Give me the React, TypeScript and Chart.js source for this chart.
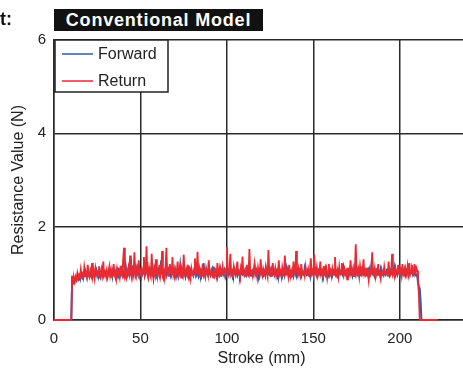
import React, { useEffect, useRef } from "react";
import { Chart, registerables } from "chart.js";

Chart.register(...registerables);

// ---- data ----
const titleText = "Conventional Model";
const cutText = "t:";
const xTitle = "Stroke (mm)";
const yTitle = "Resistance Value (N)";
const xTicks = [0, 50, 100, 150, 200];
const yTicks = [0, 2, 4, 6];
const seriesLabels = ["Forward", "Return"];

const idleStartStroke = [0, 10];
const idleEndStroke = [212.5, 222];
const sampleStart = 10.5;
const sampleStep = 0.5;

const forwardValues = [
  0.85,0.80,0.88,0.84,0.90,0.86,0.92,0.88,0.95,0.90,0.93,0.98,0.91,0.96,1.02,0.94,0.99,0.92,1.05,0.97,
  0.93,1.00,0.95,1.08,0.96,1.02,0.94,0.99,1.06,0.95,1.01,0.97,1.04,0.93,1.00,1.07,0.96,1.02,0.95,0.99,
  1.03,0.94,1.00,1.09,0.97,1.02,0.95,1.05,0.98,1.01,0.93,1.06,0.99,1.12,0.96,1.03,0.97,1.08,1.00,0.95,
  1.04,0.98,1.15,1.01,0.96,1.07,0.99,1.30,1.02,0.94,1.08,1.00,1.05,0.97,1.11,1.03,0.98,1.20,1.04,0.99,
  1.06,0.97,1.02,1.10,0.96,1.04,1.25,1.00,0.93,1.07,1.01,0.98,1.13,1.03,0.95,1.09,1.00,1.05,0.97,1.02,
  1.08,0.96,1.03,1.28,0.99,1.05,0.92,1.01,1.10,0.97,1.04,0.99,1.14,1.02,0.95,1.06,1.00,1.03,0.96,1.09,
  1.01,0.97,1.05,0.94,1.02,1.18,0.99,1.04,0.96,1.07,1.00,0.93,1.03,0.98,1.10,1.01,0.96,1.05,0.99,1.02,
  0.97,1.06,1.00,1.12,0.98,1.03,0.95,1.08,1.01,0.96,1.04,0.99,1.22,1.02,0.94,1.05,1.00,0.97,1.07,1.01,
  0.96,1.03,1.09,0.98,1.02,0.95,1.05,1.00,0.92,1.04,0.98,1.11,1.01,0.97,1.03,0.99,1.06,0.95,1.02,1.00,
  1.04,0.97,1.01,1.07,0.98,1.03,0.95,1.00,1.08,0.99,1.02,0.96,1.05,1.00,0.94,1.03,1.10,0.98,1.01,0.97,
  1.05,1.00,0.96,1.02,1.08,0.98,1.03,0.95,1.01,1.06,0.99,1.15,1.02,0.97,1.04,1.00,0.95,1.03,0.99,1.07,
  1.00,0.96,1.04,0.98,1.10,1.01,0.97,1.03,0.99,1.06,0.95,1.02,1.00,1.08,0.97,1.03,0.99,1.05,0.96,1.01,
  1.04,0.98,1.02,0.95,1.07,1.00,0.97,1.03,1.12,0.99,1.01,0.96,1.05,1.00,0.98,1.04,0.94,1.02,1.09,1.00,
  0.97,1.03,0.99,1.06,1.01,0.95,1.04,1.00,0.97,1.11,1.02,0.98,1.05,0.99,1.03,0.96,1.08,1.00,1.02,0.97,
  1.04,0.99,1.13,1.01,0.96,1.05,1.00,0.98,1.07,1.02,0.95,1.03,0.99,1.10,1.01,0.97,1.04,1.00,1.06,0.98,
  1.02,0.96,1.05,1.00,1.09,0.98,1.03,0.95,1.01,1.07,0.99,1.04,1.00,0.96,1.12,1.02,0.98,1.05,1.00,0.97,
  1.03,1.08,0.99,1.02,0.95,1.06,1.00,1.04,0.97,1.10,1.01,0.98,1.03,0.96,1.05,1.00,1.08,0.99,1.02,0.97,
  1.04,1.00,0.96,1.07,1.02,0.98,1.15,1.01,0.97,1.04,1.00,0.95,1.06,1.02,0.99,1.03,0.96,1.09,1.01,0.98,
  1.05,1.00,0.97,1.03,1.10,0.99,1.02,0.96,1.06,1.01,0.98,1.04,1.00,1.12,0.97,1.03,0.99,1.07,1.01,0.96,
  1.04,1.00,1.08,0.98,1.03,1.11,0.99,1.05,1.01,0.97,1.09,1.03,1.00,1.06,0.98,1.04,1.01,0.96,0.95,0.98,
  0.80,0.72,0.68,0.40,0.00
];

const returnValues = [
  0.95,0.78,0.90,0.82,0.93,0.87,1.00,0.89,0.96,0.92,1.08,0.94,0.99,0.91,1.12,0.96,1.03,0.93,1.18,0.98,
  0.92,1.05,0.97,1.22,0.95,1.04,0.90,1.10,0.98,1.02,0.94,1.15,0.99,0.93,1.08,0.97,1.25,0.96,1.03,0.95,
  1.06,0.92,1.01,1.14,0.96,1.07,0.91,1.03,1.20,0.97,1.02,0.89,1.09,0.98,1.04,0.93,1.16,1.00,0.95,1.30,
  1.55,0.98,1.07,0.92,1.02,1.12,0.95,1.38,1.00,0.90,1.06,0.97,1.45,1.03,0.94,1.10,0.99,1.28,0.96,1.04,
  0.93,1.08,1.00,1.35,0.97,1.05,1.58,0.99,0.91,1.12,1.03,0.95,1.42,1.01,0.88,1.09,0.98,1.30,0.96,1.06,
  1.00,1.18,0.94,1.05,1.48,0.97,1.03,0.90,1.10,1.55,0.99,1.06,0.93,1.20,1.02,0.96,1.35,1.00,0.92,1.08,
  0.97,1.04,1.25,0.95,1.02,1.12,0.91,1.06,0.98,1.40,1.03,0.94,1.08,0.99,1.17,0.96,1.04,0.90,1.10,1.00,
  0.95,1.07,1.32,0.98,1.03,1.46,0.96,1.09,0.92,1.05,1.00,1.20,0.97,1.04,0.93,1.11,1.02,0.95,1.28,1.01,
  0.96,1.06,1.00,0.91,1.14,0.98,1.04,0.94,1.22,1.01,0.97,1.08,0.93,1.03,1.15,0.99,1.05,0.95,1.10,1.56,
  1.02,0.96,1.09,1.42,0.98,1.04,0.92,1.13,1.00,0.95,1.07,1.25,0.99,1.03,0.94,1.10,0.97,1.36,1.01,0.96,
  1.05,0.93,1.18,1.00,0.96,1.52,1.02,0.98,1.08,0.94,1.04,1.20,0.99,1.06,0.92,1.12,1.01,0.97,1.30,1.03,
  0.95,1.09,1.00,0.96,1.14,1.02,0.93,1.50,1.04,0.98,1.07,0.94,1.22,1.01,0.97,1.10,0.95,1.05,1.00,1.28,
  0.98,1.04,0.93,1.12,1.00,0.96,1.38,1.03,0.99,1.07,0.94,1.18,1.01,0.97,1.05,0.92,1.25,1.02,0.98,1.48,
  1.04,0.96,1.10,0.99,0.93,1.20,1.02,0.97,1.06,0.95,1.14,1.00,0.98,1.08,0.94,1.03,1.32,0.99,1.05,0.96,
  1.40,1.02,0.97,1.12,0.95,1.05,1.00,1.25,0.98,1.04,0.92,1.16,1.01,0.96,1.08,0.90,1.03,1.20,0.98,1.05,
  0.94,1.10,1.00,0.97,1.35,1.02,0.96,1.06,0.93,1.14,1.00,0.98,1.22,1.03,0.95,1.08,0.99,1.04,0.87,1.12,
  1.00,0.96,1.28,1.02,0.98,1.10,0.94,1.05,1.62,1.01,0.97,1.08,0.93,1.15,1.00,0.96,1.04,1.30,0.99,1.06,
  0.95,1.12,1.00,0.85,1.07,0.98,1.04,1.45,1.01,0.96,1.10,0.93,1.05,1.00,1.20,0.97,1.03,0.90,1.08,1.00,
  0.96,1.14,1.02,0.98,1.06,0.93,1.25,1.01,0.97,1.04,1.42,0.99,1.05,0.94,1.10,1.00,0.96,1.18,1.02,0.98,
  1.07,0.95,1.20,1.01,0.97,1.10,1.03,0.96,1.15,1.00,1.22,0.98,1.05,1.18,1.01,0.97,1.20,1.04,1.12,1.06,
  0.85,0.55,0.00,0.00,0.00
];

const seriesColors = ["#2b5cab", "#ea2a32"];

function buildPoints(values: number[]) {
  const pts: { x: number; y: number }[] = [];
  idleStartStroke.forEach((s) => pts.push({ x: s, y: 0 }));
  values.forEach((v, i) => pts.push({ x: sampleStart + i * sampleStep, y: v }));
  idleEndStroke.forEach((s) => pts.push({ x: s, y: 0 }));
  return pts;
}

const legendPlugin = {
  id: "insideLegend",
  afterDatasetsDraw(chart: any) {
    const { ctx, chartArea } = chart;
    const left = chartArea.left + 1;
    const top = chartArea.top;
    const w = 113;
    const h = 52;
    ctx.save();
    ctx.fillStyle = "#ffffff";
    ctx.fillRect(left, top, w, h);
    ctx.strokeStyle = "#222";
    ctx.lineWidth = 1.5;
    ctx.strokeRect(left, top, w, h);
    ctx.font = '16px "Liberation Sans", Arial, sans-serif';
    ctx.textBaseline = "middle";
    ctx.textAlign = "left";
    seriesLabels.forEach((lab, i) => {
      const y = top + 14 + i * 27;
      ctx.strokeStyle = seriesColors[i];
      ctx.lineWidth = 1.5;
      ctx.beginPath();
      ctx.moveTo(left + 7, y);
      ctx.lineTo(left + 38, y);
      ctx.stroke();
      ctx.fillStyle = "#222";
      ctx.fillText(lab, left + 43, y + 1);
    });
    ctx.restore();
  },
};

export default function App() {
  const ref = useRef<HTMLCanvasElement | null>(null);

  useEffect(() => {
    document.body.style.margin = "0";
    const canvas = ref.current;
    if (!canvas) return;
    const font = '"Liberation Sans", Arial, sans-serif';
    const chart = new Chart(canvas, {
      type: "line",
      data: {
        datasets: [
          {
            label: seriesLabels[0],
            data: buildPoints(forwardValues),
            borderColor: seriesColors[0],
            borderWidth: 2,
            pointRadius: 0,
            tension: 0,
            order: 1,
            clip: 4,
          },
          {
            label: seriesLabels[1],
            data: buildPoints(returnValues),
            borderColor: seriesColors[1],
            borderWidth: 1.8,
            pointRadius: 0,
            tension: 0,
            order: 0,
            clip: 4,
          },
        ],
      },
      plugins: [legendPlugin],
      options: {
        animation: false,
        responsive: false,
        devicePixelRatio: 1,
        layout: { padding: { top: 40, left: 0, right: 0, bottom: 0 } },
        plugins: { legend: { display: false }, tooltip: { enabled: false } },
        scales: {
          x: {
            type: "linear",
            min: 0,
            max: 240,
            afterBuildTicks: (scale: any) => {
              scale.ticks = xTicks.map((v) => ({ value: v }));
            },
            afterFit: (scale: any) => {
              scale.height = 51;
            },
            ticks: {
              font: { size: 15, family: font },
              color: "#222",
              padding: 10,
              maxRotation: 0,
            },
            grid: { color: "#2a2a2a", lineWidth: 1.5, drawTicks: false },
            border: { color: "#2a2a2a", width: 1.5 },
            title: {
              display: true,
              text: xTitle,
              font: { size: 16, family: font },
              color: "#222",
              padding: { top: 0, bottom: 3 },
            },
          },
          y: {
            type: "linear",
            min: 0,
            max: 6,
            afterBuildTicks: (scale: any) => {
              scale.ticks = yTicks.map((v) => ({ value: v }));
            },
            afterFit: (scale: any) => {
              scale.width = 54;
            },
            ticks: {
              font: { size: 15, family: font },
              color: "#222",
              padding: 8,
            },
            grid: { color: "#2a2a2a", lineWidth: 1.5, drawTicks: false },
            border: { color: "#2a2a2a", width: 1.5 },
            title: {
              display: true,
              text: yTitle,
              font: { size: 16, family: font },
              color: "#222",
              padding: { top: 9, bottom: 0 },
            },
          },
        },
      },
    });
    return () => chart.destroy();
  }, []);

  return (
    <div style={{ position: "relative", width: 463, height: 371, overflow: "hidden", background: "#fff" }}>
      <canvas ref={ref} width={469} height={371} style={{ width: 469, height: 371, display: "block" }} />
      <div
        style={{
          position: "absolute",
          left: 0,
          top: 8,
          height: 22,
          lineHeight: "22px",
          fontFamily: '"Liberation Sans", Arial, sans-serif',
          fontWeight: "bold",
          fontSize: 18,
          color: "#111",
        }}
      >
        {cutText}
      </div>
      <div
        style={{
          position: "absolute",
          left: 54,
          top: 9,
          width: 209,
          height: 22,
          lineHeight: "22px",
          background: "#111",
          color: "#fff",
          fontFamily: '"Liberation Sans", Arial, sans-serif',
          fontWeight: "bold",
          fontSize: 18,
          letterSpacing: 0.8,
          textAlign: "center",
          whiteSpace: "nowrap",
        }}
      >
        {titleText}
      </div>
    </div>
  );
}
